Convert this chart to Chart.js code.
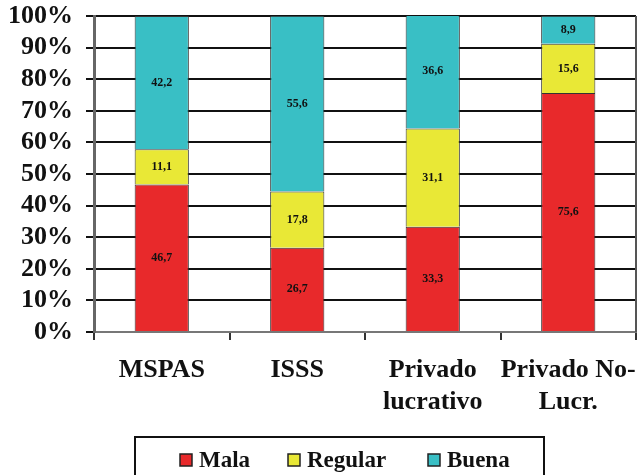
<!DOCTYPE html>
<html>
<head>
<meta charset="utf-8">
<script src="https://cdn.jsdelivr.net/npm/chart.js@4"></script>
<style>
  html, body { margin: 0; padding: 0; background: #fff; }
  #wrap { width: 641px; height: 475px; }
</style>
</head>
<body>
<div id="wrap"><canvas id="chart" width="641" height="475"></canvas></div>
<script>
const categories = ['MSPAS', 'ISSS', ['Privado', 'lucrativo'], ['Privado No-', 'Lucr.']]
const mala       = [46.7, 26.7, 33.3, 75.6]
const regular    = [11.1, 17.8, 31.1, 15.6]
const buena      = [42.2, 55.6, 36.6, 8.9]
const yTicks     = [0, 10, 20, 30, 40, 50, 60, 70, 80, 90, 100]

const serif = "'Liberation Serif', 'Times New Roman', serif"

// value labels inside each stacked segment, written with a decimal comma
const segmentLabels = {
    id: 'segmentLabels',
    afterDatasetsDraw(chart) {
        const ctx = chart.ctx
        ctx.save()
        ctx.font = `bold 12px ${serif}`
        ctx.fillStyle = '#111'
        ctx.textAlign = 'center'
        ctx.textBaseline = 'middle'
        chart.data.datasets.forEach((ds, i) => {
            chart.getDatasetMeta(i).data.forEach((bar, j) => {
                const mid = (bar.y + bar.base) / 2
                ctx.fillText(ds.data[j].toFixed(1).replace('.', ','), bar.x, mid)
            })
        })
        ctx.restore()
    }
}

// right-hand frame line and the boxed legend under the axis labels
const frameAndLegend = {
    id: 'frameAndLegend',
    afterDraw(chart) {
        const ctx  = chart.ctx
        const area = chart.chartArea
        ctx.save()
        ctx.strokeStyle = '#555'
        ctx.lineWidth = 2
        ctx.beginPath()
        ctx.moveTo(area.right, area.top)
        ctx.lineTo(area.right, area.bottom)
        ctx.stroke()

        const box = {left: 135, top: 437, right: 544, bottom: 480}
        ctx.strokeStyle = '#111'
        ctx.lineWidth = 2
        ctx.strokeRect(box.left, box.top, box.right - box.left, box.bottom - box.top)

        const itemX = [180, 288, 428]
        const cy    = 460
        ctx.font = `bold 23px ${serif}`
        ctx.textBaseline = 'middle'
        ctx.textAlign = 'left'
        chart.data.datasets.forEach((ds, i) => {
            const x = itemX[i]
            ctx.fillStyle = ds.backgroundColor
            ctx.fillRect(x, cy - 6, 12, 12)
            ctx.strokeStyle = '#222'
            ctx.lineWidth = 1.5
            ctx.strokeRect(x, cy - 6, 12, 12)
            ctx.fillStyle = '#111'
            ctx.fillText(ds.label, x + 19, cy + 1)
        })
        ctx.restore()
    }
}

const barStyle = {borderColor: '#333', borderWidth: 1, barPercentage: 0.4, categoryPercentage: 1}

new Chart(document.getElementById('chart'), {
    type   : 'bar',
    data   : {
        labels  : categories,
        datasets: [
            {label: 'Mala',    data: mala,    backgroundColor: '#e8292b', ...barStyle},
            {label: 'Regular', data: regular, backgroundColor: '#e9e836', ...barStyle},
            {label: 'Buena',   data: buena,   backgroundColor: '#39bfc5', ...barStyle}
        ]
    },
    options: {
        responsive: false,
        animation : false,
        layout    : {padding: {left: 8, right: 5, top: 16, bottom: 56}},
        plugins   : {legend: {display: false}, tooltip: {enabled: false}},
        scales    : {
            x: {
                stacked : true,
                afterFit: axis => {
                    axis.height = 87
                    axis.paddingLeft = 0
                    axis.paddingRight = 0
                },
                grid    : {offset: true, drawOnChartArea: false, color: '#333', lineWidth: 2, tickLength: 8},
                border  : {color: '#777', width: 2},
                ticks   : {
                    color      : '#111',
                    padding    : 14,
                    autoSkip   : false,
                    maxRotation: 0,
                    font       : {family: serif, size: 26, weight: 'bold', lineHeight: 1.23}
                }
            },
            y: {
                stacked : true,
                min     : 0,
                max     : 100,
                afterBuildTicks: axis => { axis.ticks = yTicks.map(v => ({value: v})) },
                afterFit: axis => {
                    axis.width = 86
                    axis.paddingTop = 0
                    axis.paddingBottom = 0
                },
                grid    : {color: '#111', lineWidth: 2, tickLength: 8},
                border  : {color: '#666', width: 3},
                ticks   : {
                    color   : '#111',
                    padding : 13,
                    autoSkip: false,
                    font    : {family: serif, size: 26, weight: 'bold'},
                    callback: v => v + '%'
                }
            }
        }
    },
    plugins: [segmentLabels, frameAndLegend]
})
</script>
</body>
</html>
